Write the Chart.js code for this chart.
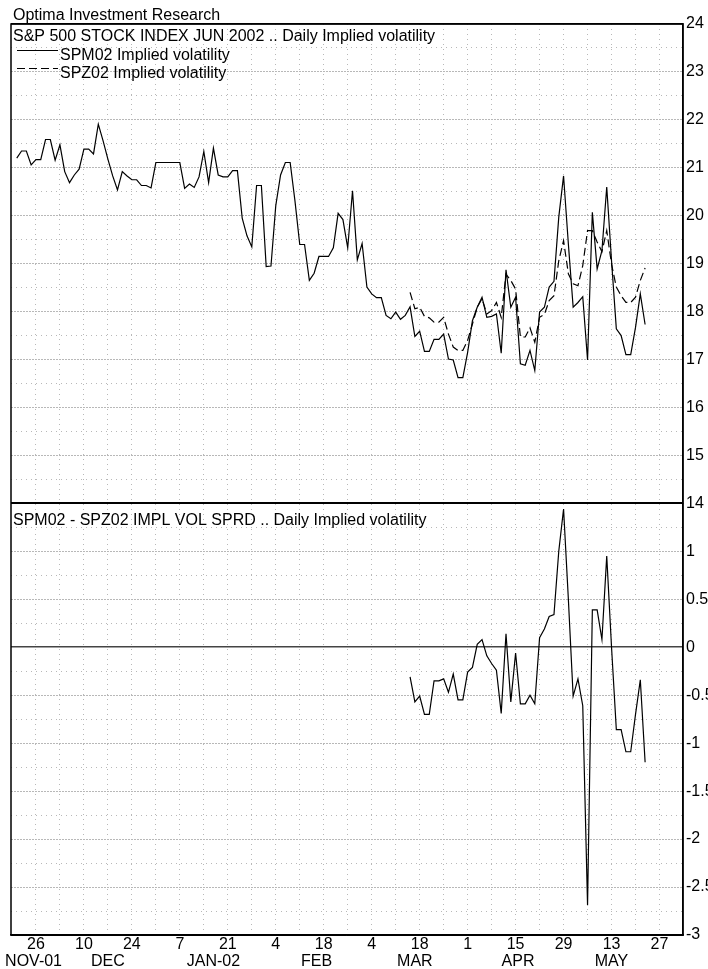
<!DOCTYPE html>
<html><head><meta charset="utf-8">
<script src="https://cdn.jsdelivr.net/npm/chart.js@4.4.1/dist/chart.umd.min.js"></script>
<style>html,body{margin:0;padding:0;background:#fff;overflow:hidden}#wrap{position:relative;width:708px;height:969px}canvas{display:block}</style>
</head><body><div id="wrap"><canvas id="c" width="708" height="969"></canvas></div>
<script>
const FONT = '"Liberation Sans", Arial, Helvetica, sans-serif';
const headerText = 'Optima Investment Research';
const topTitle = 'S&P 500 STOCK INDEX JUN 2002 .. Daily Implied volatility';
const bottomTitle = 'SPM02 - SPZ02 IMPL VOL SPRD .. Daily Implied volatility';
const seriesNames = ['SPM02 Implied volatility', 'SPZ02 Implied volatility'];

// x = trading-day number, 0 = Mon 26 Nov 2001
const spmStart = -4;
const spm02 = [21.20,21.35,21.35,21.06,21.17,21.17,21.59,21.59,21.16,21.48,
 20.92,20.69,20.85,20.97,21.39,21.39,21.29,21.91,21.56,21.18,
 20.83,20.54,20.92,20.83,20.75,20.75,20.63,20.63,20.58,21.11,
 21.11,21.11,21.11,21.11,21.11,20.57,20.66,20.59,20.81,21.34,
 20.69,21.41,20.85,20.81,20.81,20.94,20.94,19.95,19.58,19.35,
 20.63,20.63,18.94,18.95,20.21,20.85,21.11,21.11,20.31,19.40,
 19.40,18.65,18.80,19.15,19.15,19.15,19.33,20.05,19.92,19.33,
 20.52,19.08,19.42,18.51,18.37,18.29,18.29,17.92,17.85,17.99,
 17.84,17.92,18.10,17.48,17.59,17.17,17.17,17.42,17.42,17.53,
 17.01,16.99,16.62,16.62,17.15,17.81,18.09,18.30,17.88,17.90,
 17.95,17.13,18.87,18.09,18.30,16.91,16.88,17.19,16.77,17.99,
 18.09,18.51,18.63,19.97,20.83,19.41,18.09,18.19,18.31,16.99,
 20.07,18.89,19.27,20.60,19.06,17.64,17.50,17.10,17.10,17.67,
 18.37,17.73];

const spzStart = 78;
const spz02 = [18.40,18.06,18.09,17.90,17.87,17.78,17.78,17.88,17.53,17.26,
 17.19,17.19,17.40,17.74,18.09,18.27,17.95,18.02,18.19,17.88,
 18.78,18.65,18.47,17.47,17.47,17.66,17.36,17.88,17.94,18.23,
 18.33,19.06,19.48,18.79,18.58,18.54,18.96,19.69,19.69,19.45,
 19.25,19.69,18.99,18.51,18.33,18.19,18.19,18.30,18.65,18.91];

const spreadStart = 78;
const spread = [-0.31,-0.57,-0.51,-0.70,-0.70,-0.35,-0.35,-0.33,-0.47,-0.28,
 -0.55,-0.55,-0.26,-0.21,0.03,0.08,-0.09,-0.17,-0.24,-0.69,
 0.14,-0.57,-0.06,-0.59,-0.59,-0.50,-0.59,0.10,0.19,0.32,
 0.34,1.00,1.44,0.50,-0.51,-0.33,-0.61,-2.69,0.39,0.39,
 0.08,0.95,0.00,-0.86,-0.86,-1.09,-1.09,-0.70,-0.34,-1.20];

const dayTickPos = [0,10,20,30,40,50,60,70,80,90,100,110,120,130];
const dayTickLabels = ['26','10','24','7','21','4','18','4','18','1','15','29','13','27'];
const monthPos = [-0.5,15,37,58.5,79,100.5,120];
const monthLabels = ['NOV-01','DEC','JAN-02','FEB','MAR','APR','MAY'];
const topLabelValues = [14,15,16,17,18,19,20,21,22,23,24];
const bottomLabelValues = [1,0.5,0,-0.5,-1,-1.5,-2,-2.5,-3];

const xMin = -5.2, xMax = 134.9;
const GRID = '#b8b8b8';

function range(a, b, s){ const out=[]; for(let v=a; v<=b+1e-9; v+=s) out.push(Math.round(v*1000)/1000); return out; }
const toPts = (start, arr) => arr.map((v,k)=>({x:start+k, y:v}));
const near = (a,b) => Math.abs(a-b) < 1e-6;

const textPlugin = {
  id: 'texts',
  afterDraw(chart){
    const c = chart.ctx, a = chart.chartArea;
    c.save();
    c.strokeStyle = '#000'; c.lineWidth = 1.5; c.setLineDash([]);
    c.strokeRect(a.left, a.top, a.right - a.left, a.bottom - a.top);
    c.font = '16px ' + FONT; c.fillStyle = '#000';
    c.textAlign = 'left'; c.textBaseline = 'alphabetic';
    c.fillText(headerText, 13, 19.5);
    c.fillText(topTitle, 13, 41);
    const lineY = [50.5, 68.5], textY = [59.5, 78];
    chart.data.datasets.slice(0,2).forEach((ds,k)=>{
      c.beginPath();
      c.setLineDash(ds.borderDash || []);
      c.lineWidth = ds.borderWidth; c.strokeStyle = ds.borderColor;
      c.moveTo(17, lineY[k]); c.lineTo(58, lineY[k]); c.stroke();
      c.setLineDash([]);
      c.fillText(seriesNames[k], 60, textY[k]);
    });
    c.fillText(bottomTitle, 13, 525);
    c.restore();
  }
};

const tickFont = {family: FONT, size: 16};

new Chart(document.getElementById('c'), {
  type: 'line',
  data: { datasets: [
    {label: seriesNames[0], data: toPts(spmStart, spm02), yAxisID: 'y', borderColor: '#000', borderWidth: 1.2, pointRadius: 0, tension: 0, fill: false},
    {label: seriesNames[1], data: toPts(spzStart, spz02), yAxisID: 'y', borderColor: '#000', borderWidth: 1.2, borderDash: [8,4], pointRadius: 0, tension: 0, fill: false},
    {label: 'SPM02 - SPZ02', data: toPts(spreadStart, spread), yAxisID: 'y2', borderColor: '#000', borderWidth: 1.2, pointRadius: 0, tension: 0, fill: false}
  ]},
  options: {
    responsive: false, animation: false, devicePixelRatio: 1,
    layout: {padding: {left: 11, top: 24, right: 0, bottom: 0}},
    plugins: {legend: {display: false}, tooltip: {enabled: false}, title: {display: false}},
    scales: {
      x: {
        type: 'linear', position: 'bottom', min: xMin, max: xMax,
        afterBuildTicks: s => { s.ticks = range(0, 130, 5).map(v => ({value: v})); },
        afterFit: s => { s.height = 17; },
        ticks: {autoSkip: false, maxRotation: 0, minRotation: 0, padding: 0, color: '#000', font: tickFont,
          callback: v => { const k = dayTickPos.indexOf(v); return k >= 0 ? dayTickLabels[k] : ''; }},
        grid: {drawTicks: false, color: GRID, lineWidth: 1},
        border: {display: true, color: '#000', width: 1.5, dash: [1,4]}
      },
      xm: {
        type: 'linear', position: 'bottom', min: xMin, max: xMax,
        afterBuildTicks: s => { s.ticks = monthPos.map(v => ({value: v})); },
        afterFit: s => { s.height = 17; },
        ticks: {autoSkip: false, maxRotation: 0, minRotation: 0, padding: 0, color: '#000', font: tickFont,
          callback: v => { const k = monthPos.indexOf(v); return k >= 0 ? monthLabels[k] : ''; }},
        grid: {display: false, drawTicks: false},
        border: {display: false}
      },
      y: {
        type: 'linear', position: 'right', stack: 'panels', stackWeight: 479.3, min: 14, max: 24,
        afterBuildTicks: s => { s.ticks = range(14, 24, 0.5).map(v => ({value: v})); },
        afterFit: s => { s.width = 25; },
        ticks: {autoSkip: false, padding: 3, color: '#000', font: tickFont,
          callback: v => topLabelValues.some(t => near(t, v)) ? String(v) : ''},
        grid: {drawTicks: false,
          color: c => (c.tick && (near(c.tick.value,14) || near(c.tick.value,24))) ? '#000' : GRID,
          lineWidth: c => (c.tick && near(c.tick.value,14)) ? 2 : ((c.tick && near(c.tick.value,24)) ? 1.5 : 1)},
        border: {display: true, color: '#000', width: 1.5,
          dash: c => { if (!c.tick) return []; const v = c.tick.value; if (near(v,14) || near(v,24)) return []; return near(v, Math.round(v)) ? [2,1] : [1,4]; }}
      },
      y2: {
        type: 'linear', position: 'right', stack: 'panels', stackWeight: 431.7, min: -3, max: 1.5,
        afterBuildTicks: s => { s.ticks = range(-3, 1.5, 0.25).map(v => ({value: v})); },
        afterFit: s => { s.width = 25; },
        ticks: {autoSkip: false, padding: 3, color: '#000', font: tickFont,
          callback: v => bottomLabelValues.some(t => near(t, v)) ? String(v) : ''},
        grid: {drawTicks: false,
          color: c => { if (!c.tick) return GRID; const v = c.tick.value; if (near(v,1.5) || near(v,-3)) return '#000'; if (near(v,0)) return '#444'; return GRID; },
          lineWidth: c => { if (!c.tick) return 1; const v = c.tick.value; if (near(v,1.5)) return 2; if (near(v,0)) return 1.5; return 1; }},
        border: {display: true, color: '#000', width: 1.5,
          dash: c => { if (!c.tick) return []; const v = c.tick.value; if (near(v,1.5) || near(v,-3) || near(v,0)) return []; return near(v*2, Math.round(v*2)) ? [2,1] : [1,4]; }}
      }
    }
  },
  plugins: [textPlugin]
});
</script>
</body></html>
